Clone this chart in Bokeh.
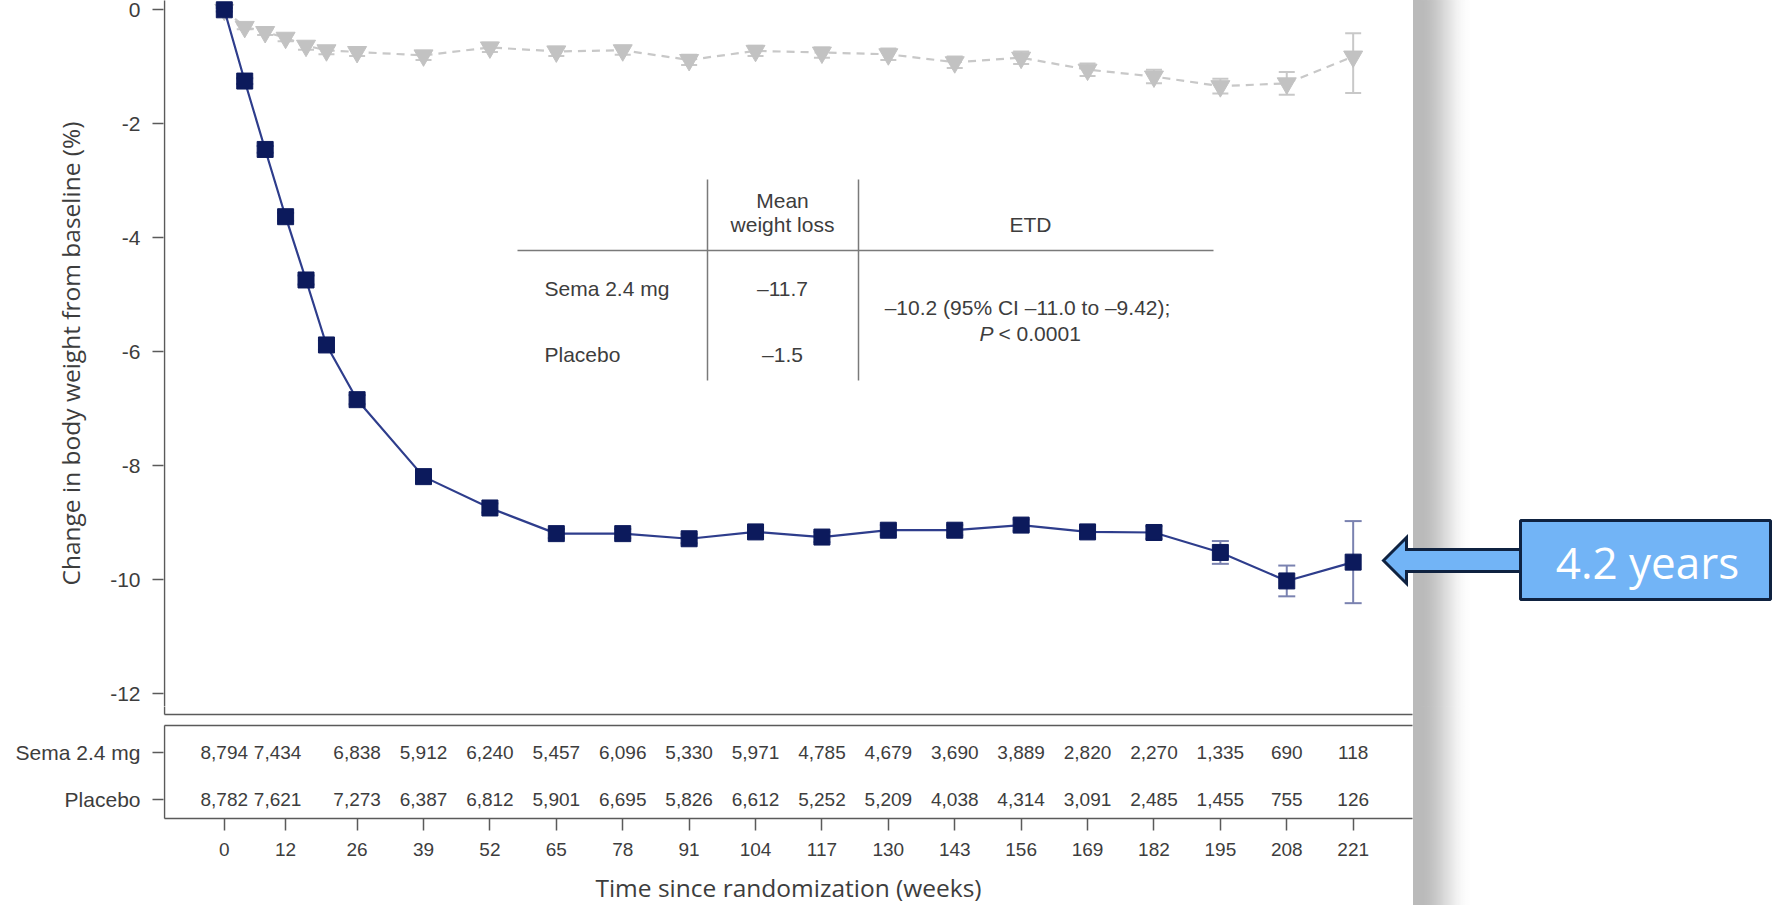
import numpy as np
from bokeh.plotting import figure
from bokeh.layouts import column
from bokeh.models import Range1d, FixedTicker, LinearAxis, ColumnDataSource
from bokeh.embed import file_html
from bokeh.resources import INLINE
from bokeh.core.properties import value

# ---------------- data ----------------
weeks = [0, 4, 8, 12, 16, 20, 26, 39, 52, 65, 78, 91, 104, 117, 130, 143, 156, 169, 182, 195, 208, 221]
sema_change = [0.0, -1.25, -2.45, -3.63, -4.74, -5.88, -6.84, -8.19, -8.74, -9.19, -9.19, -9.28,
               -9.16, -9.25, -9.13, -9.13, -9.04, -9.16, -9.17, -9.52, -10.02, -9.69]
sema_lower = [-0.03, -1.30, -2.51, -3.70, -4.82, -5.96, -6.92, -8.27, -8.82, -9.27, -9.27, -9.36,
              -9.24, -9.34, -9.22, -9.22, -9.14, -9.26, -9.28, -9.72, -10.29, -10.41]
sema_upper = [0.03, -1.20, -2.39, -3.56, -4.66, -5.80, -6.76, -8.11, -8.66, -9.11, -9.11, -9.20,
              -9.08, -9.16, -9.04, -9.04, -8.94, -9.06, -9.06, -9.32, -9.75, -8.97]
placebo_change = [0.0, -0.30, -0.39, -0.49, -0.63, -0.71, -0.74, -0.80, -0.66, -0.73, -0.71, -0.88,
                  -0.72, -0.75, -0.78, -0.92, -0.84, -1.05, -1.17, -1.34, -1.29, -0.82]
placebo_lower = [-0.03, -0.34, -0.44, -0.55, -0.70, -0.78, -0.81, -0.88, -0.74, -0.81, -0.79, -0.97,
                 -0.81, -0.84, -0.88, -1.02, -0.95, -1.16, -1.29, -1.47, -1.49, -1.46]
placebo_upper = [0.03, -0.26, -0.34, -0.43, -0.56, -0.64, -0.67, -0.72, -0.58, -0.65, -0.63, -0.79,
                 -0.63, -0.66, -0.68, -0.82, -0.73, -0.94, -1.05, -1.21, -1.09, -0.41]

tick_weeks = [0, 12, 26, 39, 52, 65, 78, 91, 104, 117, 130, 143, 156, 169, 182, 195, 208, 221]
risk_sema = [8794, 7434, 6838, 5912, 6240, 5457, 6096, 5330, 5971, 4785, 4679, 3690, 3889, 2820, 2270, 1335, 690, 118]
risk_placebo = [8782, 7621, 7273, 6387, 6812, 5901, 6695, 5826, 6612, 5252, 5209, 4038, 4314, 3091, 2485, 1455, 755, 126]
y_ticks = [0, -2, -4, -6, -8, -10, -12]
y_tick_labels = ["0", "-2", "-4", "-6", "-8", "-10", "-12"]
arms = ["Sema 2.4 mg", "Placebo"]

inset_header = ["Mean", "weight loss", "ETD"]
inset_mean = ["\u201311.7", "\u20131.5"]
inset_etd = "\u201310.2 (95% CI \u201311.0 to \u20139.42);"
inset_p = ["P", "< 0.0001"]
callout_text = "4.2 years"
x_title = "Time since randomization (weeks)"
y_title = "Change in body weight from baseline (%)"

# label nudges (style only): second at-risk column sits a little left of its tick
risk_dx = [0, -8, 0, 0, 0, 0, 0, 0, 0, 0, 0, 0, 0, 0, 0, 0, 0, 0]

# ---------------- geometry (page pixels) ----------------
W, H = 1772, 905
H1 = 706                   # height of the upper (chart) figure
X0, XS = 223.8, 5.108      # px of week 0, px per week
Y0, YS = 9.3, 57.0         # px of 0 %, px per %
def dx(px):
    return (px - X0) / XS
def dy(py):
    return -(py - Y0) / YS

FL = 163          # frame left
BL = 164          # box left line
CR = 1412         # chart right edge

TXT = "#3d3d3d"
AX = "#5a5a5a"
NAVY = "#0c1a5c"
NAVY_LINE = "#2e3d8c"
NAVY_ERR = "#7a82b0"
GREY = "#c8c8c8"
TFONT = "Liberation Sans"

xr = Range1d(dx(FL), dx(W))

def make_fig(top_px, bottom_px):
    f = figure(width=W, height=bottom_px - top_px, x_range=xr,
               y_range=Range1d(dy(bottom_px), dy(top_px)),
               x_axis_location=None, y_axis_location="left",
               min_border_left=FL, min_border_right=0, min_border_top=0, min_border_bottom=0,
               output_backend="svg", toolbar_location=None, outline_line_color=None,
               background_fill_color=None, border_fill_color=None)
    f.grid.visible = False
    ax = f.yaxis[0]
    ax.axis_line_color = None
    ax.major_tick_line_color = AX
    ax.major_tick_line_width = 1.5
    ax.major_tick_out = 11
    ax.major_tick_in = 0
    ax.minor_tick_line_color = None
    ax.major_label_standoff = 12
    ax.major_label_text_font = TFONT
    ax.major_label_text_font_size = "21px"
    ax.major_label_text_color = TXT
    # slide decoration: drop shadow at the picture's right edge
    sx = np.arange(CR + 1, 1474)
    t = np.clip((sx - 1420) / 50.0, 0, 1)
    lev = (186 + 69 * (t * t * (3 - 2 * t))).astype(int)
    cols = ["#%02x%02x%02x" % (v, v, v) for v in lev]
    f.quad(left=[dx(v) for v in sx], right=[dx(v + 1.05) for v in sx],
           bottom=dy(H + 20), top=dy(-20), fill_color=cols, line_color=None)
    return f

# ================= upper figure: the chart =================
p = make_fig(0, H1)
yax = p.yaxis[0]
yax.ticker = FixedTicker(ticks=y_ticks)
yax.major_label_overrides = {t: s for t, s in zip(y_ticks, y_tick_labels)}
yax.axis_label = y_title
yax.axis_label_text_font = "Open Sans"
yax.axis_label_text_font_size = "24.5px"
yax.axis_label_text_font_style = "normal"
yax.axis_label_text_color = TXT
yax.axis_label_standoff = 20

p.segment(x0=[dx(BL)], x1=[dx(BL)], y0=[dy(-20)], y1=[dy(714)], line_color=AX, line_width=1.5)

# placebo
pl = ColumnDataSource(dict(x=weeks, y=placebo_change, lo=placebo_lower, hi=placebo_upper))
p.line("x", "y", source=pl, line_color=GREY, line_width=2.2, line_dash="8 6")
p.segment(x0="x", x1="x", y0="lo", y1="hi", source=pl, line_color=GREY, line_width=2)
p.scatter("x", "lo", source=pl, marker="dash", size=16, line_color=GREY, line_width=2)
p.scatter("x", "hi", source=pl, marker="dash", size=16, line_color=GREY, line_width=2)
p.scatter("x", "y", source=pl, marker="inverted_triangle", size=19, fill_color="#c2c2c2",
          line_color="#c2c2c2")

# semaglutide
se = ColumnDataSource(dict(x=weeks, y=sema_change, lo=sema_lower, hi=sema_upper))
p.segment(x0="x", x1="x", y0="lo", y1="hi", source=se, line_color=NAVY_ERR, line_width=2)
p.scatter("x", "lo", source=se, marker="dash", size=17, line_color=NAVY_ERR, line_width=2)
p.scatter("x", "hi", source=se, marker="dash", size=17, line_color=NAVY_ERR, line_width=2)
p.line("x", "y", source=se, line_color=NAVY_LINE, line_width=2.2)
p.scatter("x", "y", source=se, marker="square", size=16, fill_color=NAVY, line_color=NAVY)

# inset summary table
p.segment(x0=[dx(707), dx(858), dx(517)], x1=[dx(707), dx(858), dx(1213)],
          y0=[dy(179), dy(179), dy(250)], y1=[dy(380), dy(380), dy(250)],
          line_color="#7a7a7a", line_width=1.5)
tfont = dict(text_font=value(TFONT), text_font_size="21px", text_color=TXT, text_baseline="middle")
p.text(x=[dx(782), dx(782), dx(1030)], y=[dy(200), dy(224), dy(224)], text=inset_header,
       text_align="center", **tfont)
p.text(x=[dx(544), dx(544)], y=[dy(288), dy(354)], text=arms, text_align="left", **tfont)
p.text(x=[dx(782), dx(782)], y=[dy(288), dy(354)], text=inset_mean, text_align="center", **tfont)
p.text(x=[dx(1027)], y=[dy(307)], text=[inset_etd], text_align="center", **tfont)
p.text(x=[dx(993)], y=[dy(333)], text=[inset_p[0]], text_align="right", text_font_style="italic", **tfont)
p.text(x=[dx(998)], y=[dy(333)], text=[inset_p[1]], text_align="left", **tfont)

# callout arrow
BLUE = "#72b4f6"
DARK = "#0f2240"
ax_px = [1383, 1406, 1406, 1522, 1522, 1406, 1406]
ay_px = [560, 537, 549, 549, 571, 571, 583]
p.patch([dx(v) for v in ax_px], [dy(v) for v in ay_px], fill_color=BLUE, line_color=DARK,
        line_width=3, line_join="miter")
p.quad(left=dx(1520), right=dx(1770), top=dy(520), bottom=dy(599), fill_color=BLUE,
       line_color=DARK, line_width=3)
p.text(x=[dx(1647)], y=[dy(561)], text=[callout_text], text_align="center", text_baseline="middle",
       text_font=value("Open Sans"), text_font_size="44px", text_color="white")

# ================= lower figure: numbers at risk + x axis =================
q = make_fig(H1, H)
row_y = [round(dy(752), 4), round(dy(799), 4)]
rax = q.yaxis[0]
rax.ticker = FixedTicker(ticks=row_y)
rax.major_label_overrides = {row_y[0]: arms[0], row_y[1]: arms[1]}

q.segment(x0=[dx(BL), dx(BL), dx(BL), dx(BL)], x1=[dx(BL), dx(CR), dx(CR), dx(BL)],
          y0=[dy(690), dy(714), dy(725), dy(725)], y1=[dy(714), dy(714), dy(725), dy(818)],
          line_color=AX, line_width=1.5)

for vals, ry in zip([risk_sema, risk_placebo], row_y):
    src = ColumnDataSource(dict(x=tick_weeks, y=[ry] * len(tick_weeks),
                                t=[f"{v:,}" for v in vals], off=risk_dx))
    q.text("x", "y", text="t", source=src, x_offset="off", text_align="center",
           text_baseline="middle", text_font=value(TFONT), text_font_size="19px", text_color=TXT)

xax = LinearAxis(fixed_location=dy(818), bounds=(dx(BL), dx(CR)),
                 ticker=FixedTicker(ticks=tick_weeks), axis_label=x_title)
xax.axis_line_color = AX
xax.axis_line_width = 1.5
xax.major_tick_line_color = AX
xax.major_tick_line_width = 1.5
xax.major_tick_out = 12
xax.major_tick_in = 0
xax.minor_tick_line_color = None
xax.major_label_standoff = 12
xax.major_label_text_font = TFONT
xax.major_label_text_font_size = "19px"
xax.major_label_text_color = TXT
xax.axis_label_text_font = "Open Sans"
xax.axis_label_text_font_size = "24.5px"
xax.axis_label_text_font_style = "normal"
xax.axis_label_text_color = TXT
xax.axis_label_standoff = 12
q.add_layout(xax, "below")

shadow_css = ("linear-gradient(to right, #ffffff 0px, #ffffff 1413px, #bababa 1413px, "
              "#bababa 1420px, #c4c4c4 1432px, #dcdcdc 1445px, #f5f5f5 1458px, #ffffff 1470px)")
layout = column(p, q, spacing=0, styles={"background": shadow_css})
open("out.html", "w").write(file_html(layout, INLINE))
